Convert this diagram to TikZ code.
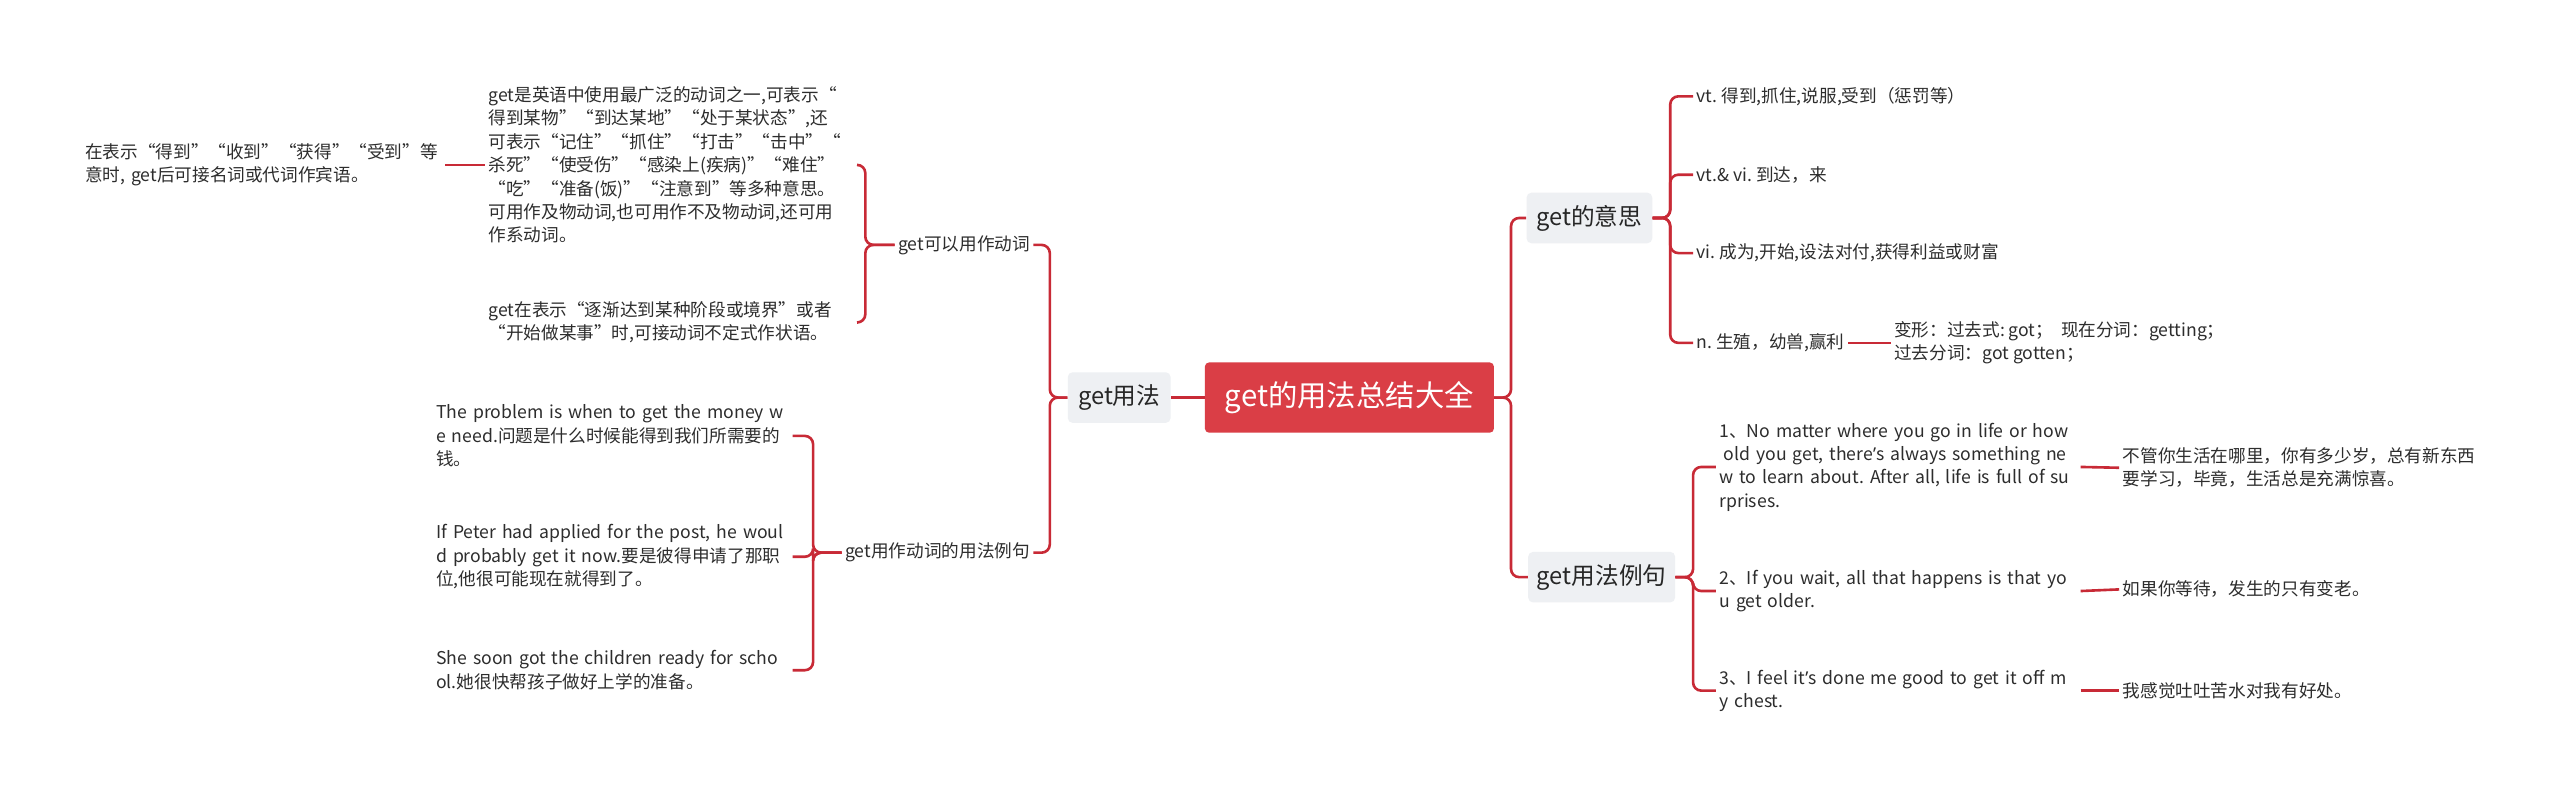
\documentclass[tikz,border=0pt]{standalone}
\usepackage{fontspec}
\setmainfont{Noto Sans CJK SC}
\newfontfamily\latinfont{Noto Sans}
\newcommand\apos{{\latinfont ’}}
\usepackage{xcolor}
\usetikzlibrary{positioning,calc}

\definecolor{rootred}{RGB}{218,62,70}
\definecolor{linkred}{RGB}{200,42,54}
\definecolor{boxgray}{RGB}{238,240,243}
\definecolor{leaftext}{RGB}{45,45,45}

\begin{document}
\frenchspacing
\begin{tikzpicture}[x=1pt,y=-1pt,
  root/.style={fill=rootred,rounded corners=2.5pt,text=white,inner sep=0pt,
    font=\fontsize{18}{22}\selectfont,minimum width=177pt,minimum height=43pt},
  topic/.style={fill=boxgray,rounded corners=3pt,text=black!85,inner sep=0pt,
    font=\fontsize{14.5}{17}\selectfont,minimum height=31pt},
  leaf/.style={text=leaftext,font=\fontsize{10.8}{14.3}\selectfont,inner sep=2pt,align=left},
  link/.style={draw=linkred,line width=1.6pt,rounded corners=5pt}]

% page
\fill[white] (0,0) rectangle (1568,488);

% spines
\coordinate (sR) at (925.5,0);
\coordinate (sL) at (643,0);
\coordinate (sV) at (530,0);
\coordinate (sU) at (498,0);
\coordinate (sM) at (1023,0);
\coordinate (sE) at (1037,0);

% centre and main topics
\node[root] (root) at (826.5,243.5) {get的用法总结大全};
\node[topic,minimum width=63pt] (use) at (685.5,243.5) {get用法};
\node[topic,minimum width=77pt] (mean) at (973.5,133.5) {get的意思};
\node[topic,minimum width=90pt] (ex) at (981,353.5) {get用法例句};

% left side
\node[leaf,anchor=east] (verb) at (633,150) {get可以用作动词};
\node[leaf,anchor=east] (usage) at (633,338.5) {get用作动词的用法例句};

\node[leaf,anchor=west,text width=224pt] (def) at (297,101)
  {get是英语中使用最广泛的动词之一,可表示“\\得到某物”“到达某地”“处于某状态”,还\\可表示“记住”“抓住”“打击”“击中”“\\杀死”“使受伤”“感染上(疾病)”“难住”\\“吃”“准备(饭)”“注意到”等多种意思。\\可用作及物动词,也可用作不及物动词,还可用\\作系动词。};
\node[leaf,anchor=west,text width=218pt] (far) at (50,101)
  {在表示“得到”“收到”“获得”“受到”等\\意时, get后可接名词或代词作宾语。};
\node[leaf,anchor=west,text width=224pt] (inf) at (297,197.5)
  {get在表示“逐渐达到某种阶段或境界”或者\\“开始做某事”时,可接动词不定式作状语。};

\node[leaf,anchor=west,text width=216pt] (p1) at (265,267)
  {The problem is when to get the money w\\e need.问题是什么时候能得到我们所需要的\\钱。};
\node[leaf,anchor=west,text width=216pt] (p2) at (265,341)
  {If Peter had applied for the post, he woul\\d probably get it now.要是彼得申请了那职\\位,他很可能现在就得到了。};
\node[leaf,anchor=west,text width=216pt] (p3) at (265,410.5)
  {She soon got the children ready for scho\\ol.她很快帮孩子做好上学的准备。};

% right side: meanings
\node[leaf,anchor=west] (m1) at (1037,59) {vt. 得到,抓住,说服,受到（惩罚等）};
\node[leaf,anchor=west] (m2) at (1037,107) {vt.\& vi. 到达，来};
\node[leaf,anchor=west] (m3) at (1037,155) {vi. 成为,开始,设法对付,获得利益或财富};
\node[leaf,anchor=west] (m4) at (1037,210) {n. 生殖，幼兽,赢利};
\node[leaf,anchor=west] (morph) at (1158,210)
  {变形：过去式: got；\ \ 现在分词：getting；\\过去分词：got gotten；};

% right side: examples
\node[leaf,anchor=west,text width=219pt] (e1) at (1051,286)
  {1、No matter where you go in life or how\\\hspace*{0.25em}old you get, there\apos s always something ne\\w to learn about. After all, life is full of su\\rprises.};
\node[leaf,anchor=west,text width=219pt] (e2) at (1051,362)
  {2、If you wait, all that happens is that yo\\u get older.};
\node[leaf,anchor=west,text width=219pt] (e3) at (1051,423)
  {3、I feel it\apos s done me good to get it off m\\y chest.};
\node[leaf,anchor=west] (z1) at (1298,286.5)
  {不管你生活在哪里，你有多少岁，总有新东西\\要学习，毕竟，生活总是充满惊喜。};
\node[leaf,anchor=west] (z2) at (1298,361) {如果你等待，发生的只有变老。};
\node[leaf,anchor=west] (z3) at (1298,423) {我感觉吐吐苦水对我有好处。};

% links
\draw[link] (root.west) -- (use.east);
\draw[link] (root.east) -- (root.east -| sR) |- (mean.west);
\draw[link] (root.east) -- (root.east -| sR) |- (ex.west);

\draw[link] (use.west) -- (use.west -| sL) |- (verb.east);
\draw[link] (use.west) -- (use.west -| sL) |- (usage.east);

\draw[link] (verb.west) -- (verb.west -| sV) |- (def.east);
\draw[link] (verb.west) -- (verb.west -| sV) |- (inf.east);
\draw[link] (def.west) -- (far.east);

\foreach \p in {p1,p2,p3}
  \draw[link] (usage.west) -- (usage.west -| sU) |- (\p.east);

\foreach \m in {m1,m2,m3,m4}
  \draw[link] (mean.east) -- (mean.east -| sM) |- (\m.west);
\draw[link] (m4.east) -- (morph.west);

\foreach \e/\z in {e1/z1,e2/z2,e3/z3}{
  \draw[link] (ex.east) -- (ex.east -| sE) |- (\e.west);
  \draw[link] (\e.east) -- (\z.west);
}
\end{tikzpicture}
\end{document}
